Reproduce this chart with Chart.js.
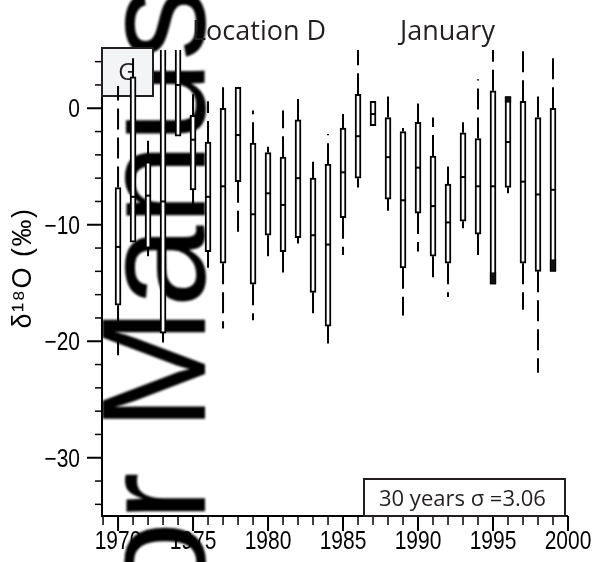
<!DOCTYPE html>
<html>
<head>
<meta charset="utf-8">
<script src="https://cdn.jsdelivr.net/npm/chart.js@4/dist/chart.umd.min.js"></script>
<style>
  html, body { margin: 0; padding: 0; background: #fff; }
  #quadro { width: 605px; height: 562px; }
</style>
</head>
<body>
<div id="quadro"><canvas id="grafico" width="605" height="562"></canvas></div>
<script>
// Anos e estatísticas (caixa + bigodes) do δ18O de janeiro
const anos = [1970, 1971, 1972, 1973, 1974, 1975, 1976, 1977, 1978, 1979,
              1980, 1981, 1982, 1983, 1984, 1985, 1986, 1987, 1988, 1989,
              1990, 1991, 1992, 1993, 1994, 1995, 1996, 1997, 1998, 1999];
const bigodeMin = [-21.8, -11.5, -12.7, -20.1, -2.4, -9.0, -13.7, -18.9, -10.9, -18.2,
                   -13.4, -14.1, -11.6, -17.9, -20.2, -12.6, -6.8, -1.5, -8.8, -17.8,
                   -12.3, -14.5, -16.2, -10.3, -12.8, -15.1, -7.3, -17.3, -22.7, -14.0];
const quartil1 = [-16.9, -11.5, -12.0, -19.3, -2.4, -7.0, -12.3, -13.3, -6.3, -15.1,
                  -10.9, -12.3, -11.1, -15.8, -18.7, -9.4, -6.0, -1.5, -7.8, -13.7,
                  -9.0, -12.7, -13.3, -9.7, -10.8, -15.1, -6.8, -13.3, -14.0, -14.0];
const mediana = [-11.9, -7.6, -7.5, -8.0, 2.0, -2.7, -7.6, -6.7, -2.3, -9.1,
                 -7.3, -8.3, -6.0, -10.9, -11.7, -5.5, -2.4, -0.5, -4.2, -7.9,
                 -5.1, -8.4, -9.8, -5.9, -6.7, -6.7, -2.9, -6.3, -7.4, -7.0];
const quartil3 = [-6.8, 2.7, -4.6, 6.0, 6.0, -0.6, -2.9, 0.0, 1.8, -3.0,
                  -3.8, -4.2, -1.0, -6.0, -4.8, -1.7, 1.2, 0.6, -0.8, -2.0,
                  -1.2, -4.1, -6.5, -2.1, -2.6, 1.5, 1.0, 0.6, -0.8, 0.0];
const bigodeMax = [1.9, 4.3, -2.5, 8.0, 8.0, 1.3, 0.6, 1.9, 1.8, -0.2,
                   -3.3, -0.2, 0.8, -4.6, -2.2, -0.5, 7.0, 0.6, 1.0, -1.7,
                   0.4, -0.8, -5.0, -1.2, 2.5, 7.0, 1.0, 7.0, 1.3, 4.4];
// faixas escuras dentro de algumas caixas
const escuroDe = [null, null, null, null, null, null, null, null, null, null,
                  null, null, null, null, null, null, null, null, null, null,
                  null, null, null, null, null, -15.1, 0.5, null, null, -14.0];
const escuroAte = [null, null, null, null, null, null, null, null, null, null,
                   null, null, null, null, null, null, null, null, null, null,
                   null, null, null, null, null, -14.1, 1.0, null, null, -13.0];

const rotulosX = [1970, 1975, 1980, 1985, 1990, 1995, 2000];
const rotulosY = [0, -10, -20, -30];
const sigmaTexto = '30 years σ =3.06';

const caixas = anos.map((a, i) => ({ x: a, y: [quartil1[i], quartil3[i]] }));
const escuros = anos.map((a, i) => ({ x: a, y: escuroDe[i] === null ? null : [escuroDe[i], escuroAte[i]] }));
const medianas = anos.map((a, i) => ({ x: a, y: mediana[i] }));
const bigodes = [];
anos.forEach((a, i) => {
    bigodes.push({ x: a, y: quartil3[i] }, { x: a, y: bigodeMax[i] }, { x: a, y: null });
    bigodes.push({ x: a, y: quartil1[i] }, { x: a, y: bigodeMin[i] }, { x: a, y: null });
});

const fonteTicks = '25px "Liberation Sans", Arial, sans-serif';
const fonteTexto = '"Open Sans", "Noto Sans", sans-serif';

function ticksPares(scale) {
    const t = [];
    for (let v = -34; v <= 4; v += 2) t.push({ value: v });
    scale.ticks = t;
}
function ticksAnos(scale) {
    const t = [];
    for (let v = 1969; v <= 2000; v++) t.push({ value: v });
    scale.ticks = t;
}

// Fundo, marca d'água, eixos e textos
const moldura = {
    id: 'moldura',
    beforeDraw(chart) {
        const ctx = chart.ctx;
        ctx.save();
        ctx.fillStyle = '#fff';
        ctx.fillRect(0, 0, chart.width, chart.height);
        ctx.translate(205, 431);
        ctx.rotate(-Math.PI / 2);
        ctx.font = '148px "Liberation Sans", Arial, sans-serif';
        ctx.filter = 'blur(0.8px)';
        ctx.fillStyle = '#000';
        const w = ctx.measureText('Author ').width;
        ctx.fillText('Author Manuscript', -w, 0);
        ctx.restore();
    },
    beforeDatasetsDraw(chart) {
        const ctx = chart.ctx;
        const { left, right, top, bottom } = chart.chartArea;
        const sx = chart.scales.x, sy = chart.scales.y;
        ctx.save();
        ctx.strokeStyle = '#000';
        ctx.lineWidth = 2;
        ctx.beginPath();
        ctx.moveTo(left, top);
        ctx.lineTo(left, bottom);
        ctx.lineTo(right, bottom);
        ctx.stroke();
        ctx.fillStyle = '#000';
        ctx.font = fonteTicks;
        sy.ticks.forEach(t => {
            const v = t.value;
            const p = sy.getPixelForValue(v);
            const maior = rotulosY.includes(v);
            const len = maior ? 15 : 7;
            ctx.lineWidth = maior ? 2 : 1.5;
            ctx.beginPath();
            ctx.moveTo(left - len, p);
            ctx.lineTo(left, p);
            ctx.stroke();
            if (maior) {
                ctx.save();
                ctx.translate(80, p + 9);
                ctx.scale(0.84, 1);
                ctx.textAlign = 'right';
                ctx.fillText(String(v).replace('-', '\u2212'), 0, 0);
                ctx.restore();
            }
        });
        sx.ticks.forEach(t => {
            const v = t.value;
            const p = sx.getPixelForValue(v);
            const maior = rotulosX.includes(v);
            const len = maior ? 15 : 9;
            ctx.lineWidth = maior ? 2 : 1.5;
            ctx.beginPath();
            ctx.moveTo(p, bottom);
            ctx.lineTo(p, bottom + len);
            ctx.stroke();
            if (maior) {
                ctx.save();
                ctx.translate(p, 549);
                ctx.scale(0.84, 1);
                ctx.textAlign = 'center';
                ctx.fillText(String(v), 0, 0);
                ctx.restore();
            }
        });
        // quadrinho do painel
        ctx.fillStyle = '#f3f4f6';
        ctx.fillRect(102, 48, 51, 48);
        ctx.strokeStyle = '#231f20';
        ctx.lineWidth = 2;
        ctx.strokeRect(102, 48, 51, 48);
        ctx.fillStyle = '#231f20';
        ctx.font = '24px ' + fonteTexto;
        ctx.textAlign = 'center';
        ctx.textBaseline = 'middle';
        ctx.fillText('G', 127, 73);
        ctx.restore();
    },
    afterDraw(chart) {
        const ctx = chart.ctx;
        ctx.save();
        ctx.fillStyle = '#231f20';
        ctx.font = '27px ' + fonteTexto;
        ctx.textBaseline = 'alphabetic';
        ctx.fillText('Location D', 192, 40);
        ctx.fillText('January', 400, 40);
        // título do eixo y
        ctx.save();
        ctx.translate(31, 268);
        ctx.rotate(-Math.PI / 2);
        ctx.font = '27px "Liberation Sans", Arial, sans-serif';
        ctx.letterSpacing = '1.5px';
        ctx.textAlign = 'center';
        ctx.fillStyle = '#000';
        ctx.fillText('δ¹⁸O (‰)', 0, 0);
        ctx.restore();
        // caixa do desvio
        ctx.fillStyle = '#fff';
        ctx.fillRect(364, 479, 201, 37);
        ctx.strokeStyle = '#231f20';
        ctx.lineWidth = 2;
        ctx.strokeRect(364, 479, 201, 37);
        ctx.fillStyle = '#231f20';
        ctx.font = '22px ' + fonteTexto;
        ctx.fillText(sigmaTexto, 379, 506);
        ctx.restore();
    }
};

const grafico = new Chart(document.getElementById('grafico'), {
    type: 'bar',
    data: {
        datasets: [
            {
                type: 'line',
                data: medianas,
                showLine: false,
                pointStyle: 'line',
                pointRadius: 3,
                pointBorderWidth: 2,
                pointBorderColor: '#000',
                order: 1
            },
            {
                data: escuros,
                backgroundColor: '#111',
                borderColor: '#000',
                borderWidth: 1,
                borderSkipped: false,
                barThickness: 6,
                grouped: false,
                order: 2
            },
            {
                data: caixas,
                backgroundColor: '#fff',
                borderColor: '#000',
                borderWidth: 2,
                borderSkipped: false,
                barThickness: 6,
                grouped: false,
                order: 3
            },
            {
                type: 'line',
                data: bigodes,
                borderColor: '#000',
                borderWidth: 2,
                borderDash: [21, 8],
                pointRadius: 0,
                spanGaps: false,
                order: 4
            }
        ]
    },
    options: {
        responsive: false,
        animation: false,
        devicePixelRatio: 1,
        layout: { padding: { top: 50, right: 37, left: 0, bottom: 0 } },
        plugins: { legend: { display: false }, tooltip: { enabled: false } },
        scales: {
            x: {
                type: 'linear',
                offset: false,
                min: 1968.93,
                max: 2000,
                afterFit(s) { s.height = 46; },
                afterBuildTicks: ticksAnos,
                grid: { display: false, drawTicks: false },
                border: { display: false },
                ticks: { display: false }
            },
            y: {
                min: -35,
                max: 5,
                afterFit(s) { s.width = 102; },
                afterBuildTicks: ticksPares,
                grid: { display: false, drawTicks: false },
                border: { display: false },
                ticks: { display: false }
            }
        }
    },
    plugins: [moldura]
});
</script>
</body>
</html>
